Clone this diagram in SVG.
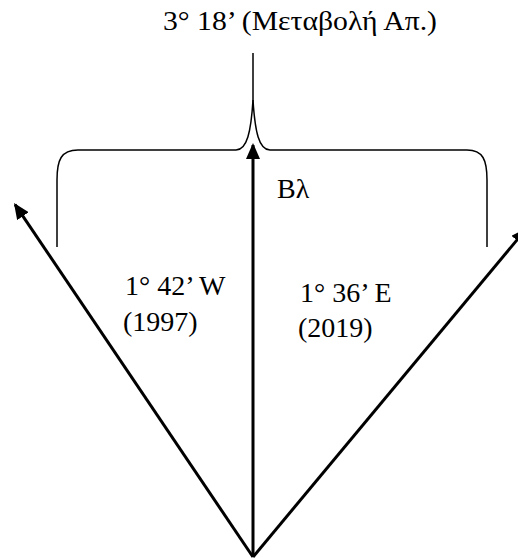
<svg xmlns="http://www.w3.org/2000/svg" width="518" height="558" viewBox="0 0 518 558">
<defs>
<style>
.t{font-family:"Liberation Serif","Times New Roman",serif;font-size:28px;fill:#000}
.ar{stroke:#000;stroke-width:3;fill:none}
.br{stroke:#000;stroke-width:1.5;fill:none}
</style>
<marker id="ah" viewBox="0 0 16 14" refX="14" refY="7" markerWidth="16" markerHeight="14" markerUnits="userSpaceOnUse" orient="auto">
<path d="M0,0 L16,7 L0,14 z" fill="#000"/>
</marker>
</defs>
<g id="connectors">
<line class="ar" x1="253" y1="557" x2="253" y2="145" marker-end="url(#ah)"/>
<line class="ar" x1="253" y1="557" x2="15.1" y2="204.6" marker-end="url(#ah)"/>
<line class="ar" x1="253" y1="557" x2="525.7" y2="229.5" marker-end="url(#ah)"/>
</g>
<g id="brace">
<path class="br" d="M57,247 L57,180 C57,160 61,150 78,150 L236,150 C247,150 251,132 253,100 L253,53"/>
<path class="br" d="M253,100 C255,132 259,150 270,150 L467,150 C483,150 487,160 487,180 L487,247"/>
</g>
<g id="labels">
<text class="t" x="163" y="30" textLength="274" lengthAdjust="spacingAndGlyphs">3° 18’ (Μεταβολή Απ.)</text>
<text class="t" x="277" y="198">Bλ</text>
<text class="t" x="125" y="295">1° 42’ W</text>
<text class="t" x="123" y="331">(1997)</text>
<text class="t" x="300" y="302">1° 36’ E</text>
<text class="t" x="298" y="337">(2019)</text>
</g>
</svg>
